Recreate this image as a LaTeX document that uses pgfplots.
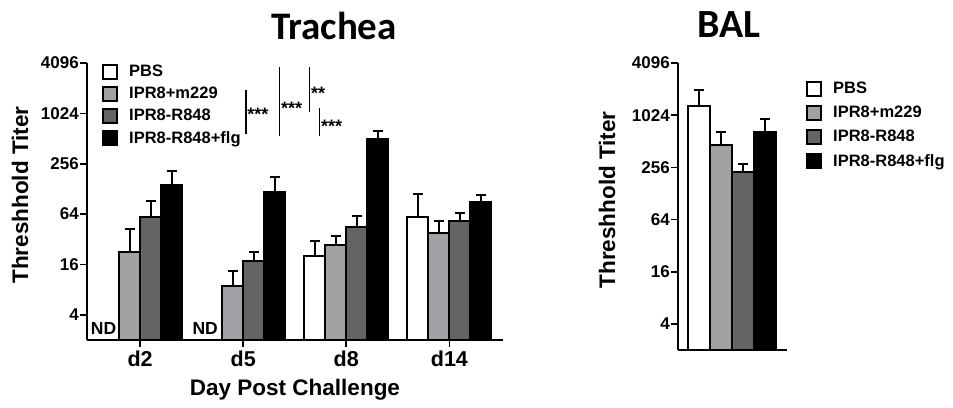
\documentclass[border=0pt]{standalone}
\usepackage{pgfplots}
\pgfplotsset{compat=1.18}
\usepackage{fontspec}
\setmainfont{Liberation Sans}
\newfontfamily\titlefont{Carlito}
\definecolor{lgray}{RGB}{160,160,165}
\definecolor{dgray}{RGB}{100,100,100}

\pgfplotsset{
  boxleg/.style={legend image code/.code={\draw[##1, line width=2pt] (0.5pt,-7pt) rectangle (14.5pt,7pt); \path (23.5pt,0pt);}},
  bstyle/.style={draw=black, line width=2pt, fill=#1, boxleg,
    error bars/.cd, y dir=plus, y explicit, error bar style={line width=2pt, black},
    error mark options={line width=2pt, black, mark size=5pt, rotate=90}},
}
\newcommand{\legfont}{\bfseries\fontsize{16.5}{19}\selectfont}

\begin{document}
\begin{tikzpicture}
\useasboundingbox (0,0) rectangle (953pt,407pt);

\node[font=\titlefont\bfseries\fontsize{39}{40}\selectfont, anchor=base] at (334pt,367pt) {Trachea};
\node[font=\titlefont\bfseries\fontsize{40}{40}\selectfont, anchor=base] at (729pt,369pt) {BAL};

\begin{axis}[
  ymode=log, log basis y=2, log origin y=infty,
  ymin=2, ymax=4096,
  ytick={4,16,64,256,1024,4096}, yticklabels={4,16,64,256,1024,4096},
  axis x line*=bottom, axis y line*=left,
  axis line style={-, line width=2pt},
  tick align=outside, major tick length=7pt,
  tick style={line width=1.6pt, black},
  scale only axis, clip=false,
  ybar=0pt,
  tick label style={font=\bfseries\fontsize{17}{18}\selectfont},
  yticklabel style={inner sep=1pt},
  label style={font=\bfseries\fontsize{22.5}{24}\selectfont},
  legend style={draw=none, fill=none, font=\legfont, nodes={font=\legfont}, row sep=5pt, inner sep=0pt},
  legend cell align=left,
  at={(87pt,67pt)}, anchor=south west, width=416pt, height=277pt,
  xmin=-0.515, xmax=3.52, xtick={0,1,2,3}, xticklabels={d2,d5,d8,d14},
  xticklabel style={font=\bfseries\fontsize{21.5}{24}\selectfont},
  bar width=21pt,
  xlabel={Day Post Challenge}, xlabel style={at={(axis description cs:0.5,-0.18)}, anchor=center},
  ylabel={Threshhold Titer}, ylabel style={at={(axis description cs:-0.161,0.523)}, anchor=center},
  legend style={at={(rel axis cs:0.036,1.0)}, anchor=north west}]
\addplot[bstyle=white] table[x=x, y=y, y error=e] {
x y e
2 20.3 10.3
3 59 51
};
\addlegendentry{\legfont PBS}
\addplot[bstyle=lgray] table[x=x, y=y, y error=e] {
x y e
0 22.8 19.2
1 8.9 4.3
2 27.4 7.6
3 37.8 15.2
};
\addlegendentry{\legfont IPR8+m229}
\addplot[bstyle=dgray] table[x=x, y=y, y error=e] {
x y e
0 59 34
1 17.4 5.4
2 45 16
3 53 13.7
};
\addlegendentry{\legfont IPR8-R848}
\addplot[bstyle=black] table[x=x, y=y, y error=e] {
x y e
0 143 67
1 117 63
2 502 134
3 90 18
};
\addlegendentry{\legfont IPR8-R848+flg}

\node[font=\bfseries\fontsize{17.5}{18}\selectfont] at (axis cs:-0.354,2.71) {ND};
\node[font=\bfseries\fontsize{17.5}{18}\selectfont] at (axis cs:0.631,2.71) {ND};

\draw[line width=1.6pt] (axis cs:1.026,580) -- (axis cs:1.026,1953);
\node[anchor=west, inner sep=1pt, font=\bfseries\fontsize{18}{18}\selectfont] at (axis cs:1.03,1000) {***};
\draw[line width=1.6pt] (axis cs:1.352,549) -- (axis cs:1.352,3660);
\node[anchor=west, inner sep=1pt, font=\bfseries\fontsize{18}{18}\selectfont] at (axis cs:1.356,1180) {***};
\draw[line width=1.6pt] (axis cs:1.644,1070) -- (axis cs:1.644,3660);
\node[anchor=west, inner sep=1pt, font=\bfseries\fontsize{18}{18}\selectfont] at (axis cs:1.648,1800) {**};
\draw[line width=1.6pt] (axis cs:1.741,549) -- (axis cs:1.741,1185);
\node[anchor=west, inner sep=1pt, font=\bfseries\fontsize{18}{18}\selectfont] at (axis cs:1.745,720) {***};
\end{axis}

\begin{axis}[
  ymode=log, log basis y=2, log origin y=infty,
  ymin=2, ymax=4096,
  ytick={4,16,64,256,1024,4096}, yticklabels={4,16,64,256,1024,4096},
  axis x line*=bottom, axis y line*=left,
  axis line style={-, line width=2pt},
  tick align=outside, major tick length=7pt,
  tick style={line width=1.6pt, black},
  scale only axis, clip=false,
  ybar=0pt,
  tick label style={font=\bfseries\fontsize{17}{18}\selectfont},
  yticklabel style={inner sep=1pt},
  label style={font=\bfseries\fontsize{22.5}{24}\selectfont},
  legend style={draw=none, fill=none, font=\legfont, nodes={font=\legfont}, row sep=7pt, inner sep=0pt},
  legend cell align=left,
  at={(678pt,57pt)}, anchor=south west, width=109pt, height=287pt,
  xmin=-0.535, xmax=0.555, xtick=\empty,
  bar width=22pt,
  ylabel={Threshhold Titer}, ylabel style={at={(axis description cs:-0.651,0.523)}, anchor=center},
  legend style={at={(rel axis cs:1,1)}, anchor=north west, xshift=19pt, yshift=-17pt}]
\addplot[bstyle=white] table[x=x, y=y, y error=e] {
x y e
0 1313 692
};
\addlegendentry{\legfont PBS}
\addplot[bstyle=lgray] table[x=x, y=y, y error=e] {
x y e
0 464 192
};
\addlegendentry{\legfont IPR8+m229}
\addplot[bstyle=dgray] table[x=x, y=y, y error=e] {
x y e
0 228 55
};
\addlegendentry{\legfont IPR8-R848}
\addplot[bstyle=black] table[x=x, y=y, y error=e] {
x y e
0 662 258
};
\addlegendentry{\legfont IPR8-R848+flg}
\end{axis}
\end{tikzpicture}
\end{document}
